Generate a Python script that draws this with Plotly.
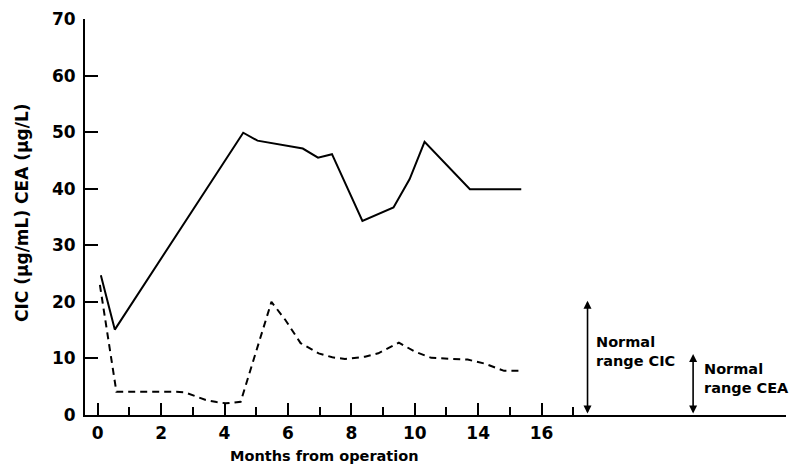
import plotly.graph_objects as go

# x positions in axis units (tick positions 0..14 labelled 0,2,4,6,8,10,14,16)
cic_x = [0.10, 0.54, 4.59, 5.04, 6.47, 6.95, 7.39, 8.35, 9.33, 9.84, 10.31, 11.74, 13.36]
cic_y = [24.7, 15.1, 49.9, 48.5, 47.1, 45.5, 46.1, 34.3, 36.7, 41.7, 48.3, 39.9, 39.9]

cea_x = [0.07, 0.59, 2.48, 2.75, 3.10, 3.41, 3.75, 4.04, 4.51, 5.48, 5.92, 6.40, 6.97, 7.40, 7.80,
         8.43, 8.85, 9.50, 10.00, 10.52, 11.67, 12.20, 12.82, 13.36]
cea_y = [23.0, 4.1, 4.1, 4.0, 3.3, 2.65, 2.3, 2.06, 2.35, 20.0, 16.8, 12.7, 10.9, 10.2, 9.9,
         10.3, 10.9, 12.8, 11.2, 10.1, 9.8, 9.1, 7.8, 7.8]

x_tickvals = [0, 2, 4, 6, 8, 10, 12, 14]
x_ticktext = ["0", "2", "4", "6", "8", "10", "14", "16"]
x_minor = [1, 3, 5, 7, 9, 11, 13, 15]
y_tickvals = [0, 10, 20, 30, 40, 50, 60, 70]

cic_normal_x, cic_normal_top = 15.45, 20.2
cea_normal_x, cea_normal_top = 18.78, 10.8

FONT = "DejaVu Sans"
W, H = 796, 476
ML, MR, MT, MB = 85, 10, 19, 61
plot_w, plot_h = W - ML - MR, H - MT - MB


def px_to_paper(px, py):
    return (px - ML) / plot_w, (H - MB - py) / plot_h


def bold(s):
    return "<b>" + s + "</b>"


fig = go.Figure()
fig.add_trace(go.Scatter(x=cic_x, y=cic_y, mode="lines",
                         line=dict(color="black", width=2), showlegend=False))
fig.add_trace(go.Scatter(x=cea_x, y=cea_y, mode="lines",
                         line=dict(color="black", width=2, dash="7px,5px"), showlegend=False))

for ax_x, top in [(cic_normal_x, cic_normal_top), (cea_normal_x, cea_normal_top)]:
    fig.add_annotation(x=ax_x, y=top, ax=ax_x, ay=0, xref="x", yref="y", axref="x", ayref="y",
                       showarrow=True, arrowhead=2, arrowside="end+start", arrowsize=1,
                       arrowwidth=1.6, arrowcolor="black", text="")

fig.add_annotation(x=cic_normal_x, y=11.2, xref="x", yref="y", xanchor="left",
                   xshift=6, yanchor="middle", showarrow=False, align="left",
                   text=bold("Normal") + "<br>" + bold("range CIC"),
                   font=dict(family=FONT, size=14.5, color="black"))
fig.add_annotation(x=cea_normal_x, y=6.5, xref="x", yref="y", xanchor="left",
                   xshift=9, yanchor="middle", showarrow=False, align="left",
                   text=bold("Normal") + "<br>" + bold("range CEA"),
                   font=dict(family=FONT, size=14.5, color="black"))

tx, ty = px_to_paper(324, 456)
fig.add_annotation(x=tx, y=ty, xref="paper", yref="paper", xanchor="center", yanchor="middle",
                   showarrow=False, text=bold("Months from operation"),
                   font=dict(family=FONT, size=14.5, color="black"))
yx, yy = px_to_paper(22, 213)
fig.add_annotation(x=yx, y=yy, xref="paper", yref="paper", xanchor="center", yanchor="middle",
                   showarrow=False, textangle=-90, text=bold("CIC (μg/mL) CEA (μg/L)"),
                   font=dict(family=FONT, size=17, color="black"))

fig.update_layout(
    width=W, height=H,
    margin=dict(l=ML, r=MR, t=MT, b=MB),
    paper_bgcolor="white", plot_bgcolor="white",
    font=dict(family=FONT, size=14, color="black"),
    xaxis=dict(range=[-0.40, 21.71], tickmode="array", tickvals=x_tickvals,
               ticktext=[bold(t) for t in x_ticktext],
               ticks="inside", ticklen=12, tickwidth=2, tickcolor="black",
               minor=dict(tickmode="array", tickvals=x_minor, ticks="inside", ticklen=8,
                          tickwidth=2, tickcolor="black"),
               showline=True, linecolor="black", linewidth=2, showgrid=False, zeroline=False,
               tickfont=dict(family=FONT, size=17), ticklabelstandoff=2),
    yaxis=dict(range=[0, 70], tickmode="array", tickvals=y_tickvals,
               ticktext=[bold(str(v)) for v in y_tickvals],
               ticks="inside", ticklen=13, tickwidth=2, tickcolor="black",
               showline=True, linecolor="black", linewidth=2, showgrid=False, zeroline=False,
               tickfont=dict(family=FONT, size=17), ticklabelstandoff=4),
)

fig.write_html("out.html")
